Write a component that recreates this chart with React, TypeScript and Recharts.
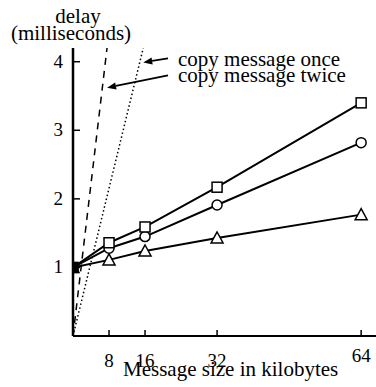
import { LineChart, Line, XAxis, YAxis, ReferenceLine } from 'recharts';

const sizes = [0, 8, 16, 32, 64];
const squareDelay = [1.0, 1.36, 1.59, 2.17, 3.4];
const circleDelay = [1.0, 1.28, 1.45, 1.91, 2.82];
const triangleDelay = [1.0, 1.11, 1.24, 1.43, 1.77];

const copyTwiceSizes = [0, 7.56];
const copyTwiceDelay = [0, 4.2];
const copyOnceSizes = [0, 15.6];
const copyOnceDelay = [0, 4.2];

const xTicks = [8, 16, 32, 64];
const yTicks = [1, 2, 3, 4];

const data = sizes.map((s, i) => ({
  size: s,
  square: squareDelay[i],
  circle: circleDelay[i],
  triangle: triangleDelay[i],
}));
const twiceData = copyTwiceSizes.map((s, i) => ({ size: s, twice: copyTwiceDelay[i] }));
const onceData = copyOnceSizes.map((s, i) => ({ size: s, once: copyOnceDelay[i] }));

const FONT = 'Liberation Serif, Times New Roman, serif';

function YTick({ x, y, payload }: any) {
  return (
    <g>
      <line x1={x} y1={y} x2={x + 7} y2={y} stroke="#000" strokeWidth={1.5} />
      <text x={x - 10} y={y} dy={6} textAnchor="end" fontSize={19} fontFamily={FONT} fill="#000">
        {payload.value}
      </text>
    </g>
  );
}

function XTick({ x, y, payload }: any) {
  const dy = payload.value === 64 ? 26 : 31;
  return (
    <g>
      <line x1={x} y1={y} x2={x} y2={y - 6} stroke="#000" strokeWidth={1.5} />
      <text x={x} y={y + dy} textAnchor="middle" fontSize={19} fontFamily={FONT} fill="#000">
        {payload.value}
      </text>
    </g>
  );
}

function squareDot({ cx, cy, index }: any) {
  return (
    <rect key={index} x={cx - 5} y={cy - 5} width={10} height={10}
      fill={index === 0 ? '#000' : '#fff'} stroke="#000" strokeWidth={1.5} />
  );
}

function circleDot({ cx, cy, index }: any) {
  return <circle key={index} cx={cx} cy={cy} r={5} fill="#fff" stroke="#000" strokeWidth={1.5} />;
}

function triangleDot({ cx, cy, index }: any) {
  const pts = `${cx},${cy - 6} ${cx - 6},${cy + 5} ${cx + 6},${cy + 5}`;
  return <polygon key={index} points={pts} fill="#fff" stroke="#000" strokeWidth={1.5} />;
}

function makeArrow(label: string, dy: number) {
  return (p: any) => {
    const { x1, y1, x2, y2 } = p;
    const ang = Math.atan2(y2 - y1, x2 - x1);
    const len = 9;
    const w = 3.5;
    const bx = x2 - len * Math.cos(ang);
    const by = y2 - len * Math.sin(ang);
    const head = `${x2},${y2} ${bx + w * Math.sin(ang)},${by - w * Math.cos(ang)} ${bx - w * Math.sin(ang)},${by + w * Math.cos(ang)}`;
    return (
      <g>
        <line x1={x1} y1={y1} x2={bx} y2={by} stroke="#000" strokeWidth={1.8} />
        <polygon points={head} fill="#000" />
        <text x={x1 + 10} y={y1 + dy} fontSize={21} fontFamily={FONT} fill="#000">
          {label}
        </text>
      </g>
    );
  };
}

export default function App() {
  return (
    <div style={{ position: 'absolute', left: 0, top: 0, width: 376, height: 387, background: '#fff' }}>
      <div style={{ position: 'absolute', left: 0, top: 8, width: 142, textAlign: 'center', fontFamily: FONT, fontSize: 21, lineHeight: '17px' }}>
        <div style={{ paddingLeft: 14 }}>delay</div>
        <div>(milliseconds)</div>
      </div>
      <LineChart width={376} height={387} data={data} margin={{ top: 48, right: 0, left: 33, bottom: 21 }}>
        <XAxis
          dataKey="size"
          type="number"
          domain={[0, 67.3]}
          ticks={xTicks}
          allowDataOverflow
          tick={<XTick />}
          tickSize={0}
          tickMargin={0}
          tickLine={false}
          axisLine={{ stroke: '#000', strokeWidth: 2 }}
          height={30}
        />
        <YAxis
          type="number"
          domain={[0, 4.2]}
          ticks={yTicks}
          allowDataOverflow
          tick={<YTick />}
          tickSize={0}
          tickMargin={0}
          tickLine={false}
          axisLine={{ stroke: '#000', strokeWidth: 2.5 }}
          width={40}
        />
        <Line data={twiceData} dataKey="twice" stroke="#000" strokeWidth={1.5} strokeDasharray="7 6"
          dot={false} activeDot={false} isAnimationActive={false} />
        <Line data={onceData} dataKey="once" stroke="#000" strokeWidth={1.5} strokeDasharray="1.5 2.5"
          dot={false} activeDot={false} isAnimationActive={false} />
        <Line dataKey="triangle" stroke="#000" strokeWidth={2} dot={triangleDot} activeDot={false} isAnimationActive={false} />
        <Line dataKey="circle" stroke="#000" strokeWidth={2} dot={circleDot} activeDot={false} isAnimationActive={false} />
        <Line dataKey="square" stroke="#000" strokeWidth={2} dot={squareDot} activeDot={false} isAnimationActive={false} />
        <ReferenceLine segment={[{ x: 21.1, y: 4.05 }, { x: 15.6, y: 3.99 }]} shape={makeArrow('copy message once', 8)} />
        <ReferenceLine segment={[{ x: 21.1, y: 3.8 }, { x: 7.56, y: 3.62 }]} shape={makeArrow('copy message twice', 7)} />
      </LineChart>
      <div style={{ position: 'absolute', left: 123, top: 358, fontFamily: FONT, fontSize: 21, lineHeight: '22px', whiteSpace: 'nowrap' }}>
        Message size in kilobytes
      </div>
    </div>
  );
}
